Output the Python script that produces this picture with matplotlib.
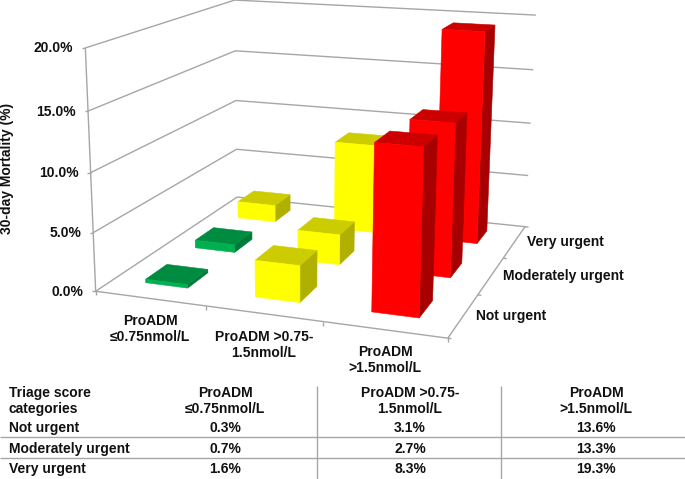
import numpy as np
import matplotlib
matplotlib.use("Agg")
import matplotlib.pyplot as plt
from matplotlib.patches import Polygon

plt.rcParams['font.family'] = ['Liberation Sans', 'DejaVu Sans']

# ---- data ----
proadm_labels = ["ProADM\n≤0.75nmol/L", "ProADM >0.75-\n1.5nmol/L", "ProADM\n>1.5nmol/L"]
triage_labels = ["Not urgent", "Moderately urgent", "Very urgent"]
not_urgent = [0.3, 3.1, 13.6]
moderately_urgent = [0.7, 2.7, 13.3]
very_urgent = [1.6, 8.3, 19.3]
y_ticks = [0, 5, 10, 15, 20]
y_axis_label = "30-day Mortality (%)"
table_corner = "Triage score\ncategories"
series = [not_urgent, moderately_urgent, very_urgent]

# ---- styles ----
GREEN = ("#00B050", "#008C40", "#007A38")
YELLOW = ("#FFFF00", "#CCCC00", "#B0B000")
RED = ("#FF0000", "#CC0000", "#A80000")
cell_colors = [[GREEN, YELLOW, RED], [GREEN, YELLOW, RED], [YELLOW, YELLOW, RED]]
GRID = "#a6a6a6"
BAR_W, BAR_D, ROW_START, COL_CENTER = 0.39, 0.41, 0.33, 0.49

# ---- perspective scale: (category, series, value) -> pixel ----
anchors = [((0, 0, 0), (96, 291)), ((3, 0, 0), (448, 338)), ((3, 3, 0), (525, 227)),
           ((0, 3, 0), (237, 197)), ((0, 0, 20), (85.5, 48)), ((0, 3, 20), (235, 0)),
           ((3, 3, 20), (535, 15)), ((0, 0, 10), (90, 173)), ((3, 3, 10), (530, 123))]
A = []
for (u, v, w), (px, py) in anchors:
    A.append([u, v, w, 1, 0, 0, 0, 0, -px*u, -px*v, -px*w, -px])
    A.append([0, 0, 0, 0, u, v, w, 1, -py*u, -py*v, -py*w, -py])
H = np.linalg.svd(np.array(A, float))[2][-1].reshape(3, 4)


def proj(u, v, w):
    X = H @ np.array([u, v, w, 1.0])
    return X[0] / X[2], X[1] / X[2]


fig = plt.figure(figsize=(6.85, 4.79), dpi=100)
ax = fig.add_axes([0, 0, 1, 1])
ax.set_xlim(0, 685)
ax.set_ylim(479, 0)
ax.axis("off")


def line(p, q, color=GRID, lw=1.0):
    ax.plot([p[0], q[0]], [p[1], q[1]], color=color, lw=lw, solid_capstyle="butt")


# walls and floor edges
for t in y_ticks:
    a, b, c = proj(0, 0, t), proj(0, 3, t), proj(3, 3, t)
    ax.plot([a[0], b[0], c[0]], [a[1], b[1], c[1]], color=GRID, lw=1.0)
    line(a, (a[0] - 3.5, a[1]))
    ax.text(a[0] - 12, a[1] + 0.5, f"{t:.1f}%", ha="right", va="center",
            fontsize=10, fontweight="bold", color="#111111")
line(proj(0, 0, 0), proj(0, 0, 20))
line(proj(0, 0, 0), proj(3, 0, 0))
line(proj(3, 0, 0), proj(3, 3, 0))
for i in range(4):
    p = proj(i, 0, 0)
    line(p, (p[0], p[1] + 4))
for j in range(4):
    p = proj(3, j, 0)
    line(p, (p[0] + 3.5, p[1] + 0.5))

# bars, back to front
for j in range(2, -1, -1):
    for i in range(3):
        h = series[j][i]
        front, top, side = cell_colors[j][i]
        x0, x1 = i + COL_CENTER - BAR_W / 2, i + COL_CENTER + BAR_W / 2
        y0, y1 = j + ROW_START, j + ROW_START + BAR_D
        faces = [
            ([(x1, y0, 0), (x1, y1, 0), (x1, y1, h), (x1, y0, h)], side),
            ([(x0, y0, h), (x1, y0, h), (x1, y1, h), (x0, y1, h)], top),
            ([(x0, y0, 0), (x1, y0, 0), (x1, y0, h), (x0, y0, h)], front),
        ]
        for pts, col in faces:
            ax.add_patch(Polygon([proj(*p) for p in pts], closed=True, facecolor=col,
                                 edgecolor=col, lw=0.4, zorder=3))

# axis labels
bold = dict(fontsize=10, fontweight="bold", color="#111111", linespacing=1.15)
ax.text(7, 168, y_axis_label, rotation=90, ha="center", va="center", **bold)
for lab, (x, y) in zip(proadm_labels, [(150, 329), (264, 345), (385, 360)]):
    ax.text(x, y, lab, ha="center", va="center", **bold)
for lab, (x, y) in zip(triage_labels, [(476, 316), (503, 276), (527, 242)]):
    ax.text(x, y, lab, ha="left", va="center", **bold)

# table
col_x = [225, 410, 596]
row_y = [428, 449, 469]
ax.text(9, 401, table_corner, ha="left", va="center", **bold)
for x, lab in zip(col_x, proadm_labels):
    ax.text(x, 401, lab, ha="center", va="center", **bold)
for y, lab, vals in zip(row_y, triage_labels, series):
    ax.text(9, y, lab, ha="left", va="center", **bold)
    for x, v in zip(col_x, vals):
        ax.text(x, y, f"{v:.1f}%", ha="center", va="center", **bold)
for x in (317, 501):
    line((x, 386), (x, 479))
for y in (437, 458):
    line((0, y), (685, y))

fig.savefig("out.png", dpi=100)
